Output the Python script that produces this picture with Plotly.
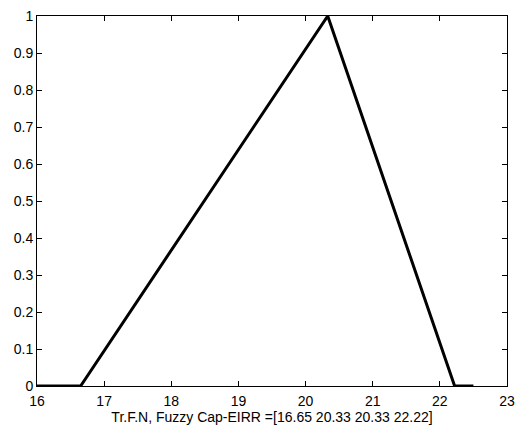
import plotly.graph_objects as go

x_vals = [16.0, 16.65, 20.33, 20.33, 22.22, 22.5]
y_vals = [0.0, 0.0, 1.0, 1.0, 0.0, 0.0]
x_ticks = [16, 17, 18, 19, 20, 21, 22, 23]
y_ticks = [0, 0.1, 0.2, 0.3, 0.4, 0.5, 0.6, 0.7, 0.8, 0.9, 1]
y_tick_text = ["0", "0.1", "0.2", "0.3", "0.4", "0.5", "0.6", "0.7", "0.8", "0.9", "1"]
x_title = "Tr.F.N, Fuzzy Cap-EIRR =[16.65 20.33 20.33 22.22]"

font = dict(family="Arial, Liberation Sans", size=14, color="black")

fig = go.Figure()
fig.add_trace(go.Scatter(x=x_vals, y=y_vals, mode="lines",
                         line=dict(color="black", width=3), showlegend=False))

axis_common = dict(showgrid=False, zeroline=False, showline=True, linecolor="black",
                   linewidth=1, mirror="ticks", ticks="inside", ticklen=5,
                   tickcolor="black", tickwidth=1, tickfont=font)

fig.update_xaxes(range=[16, 23], tickvals=x_ticks, ticktext=[str(t) for t in x_ticks],
                 ticklabelstandoff=2,
                 title=dict(text=x_title, standoff=2, font=font),
                 **axis_common)
fig.update_yaxes(range=[0, 1], tickvals=y_ticks, ticktext=y_tick_text,
                 ticklabelstandoff=0, **axis_common)

fig.update_layout(width=523, height=431, margin=dict(l=37, r=8, t=10, b=45),
                  plot_bgcolor="white", paper_bgcolor="white")

fig.write_html("out.html")
